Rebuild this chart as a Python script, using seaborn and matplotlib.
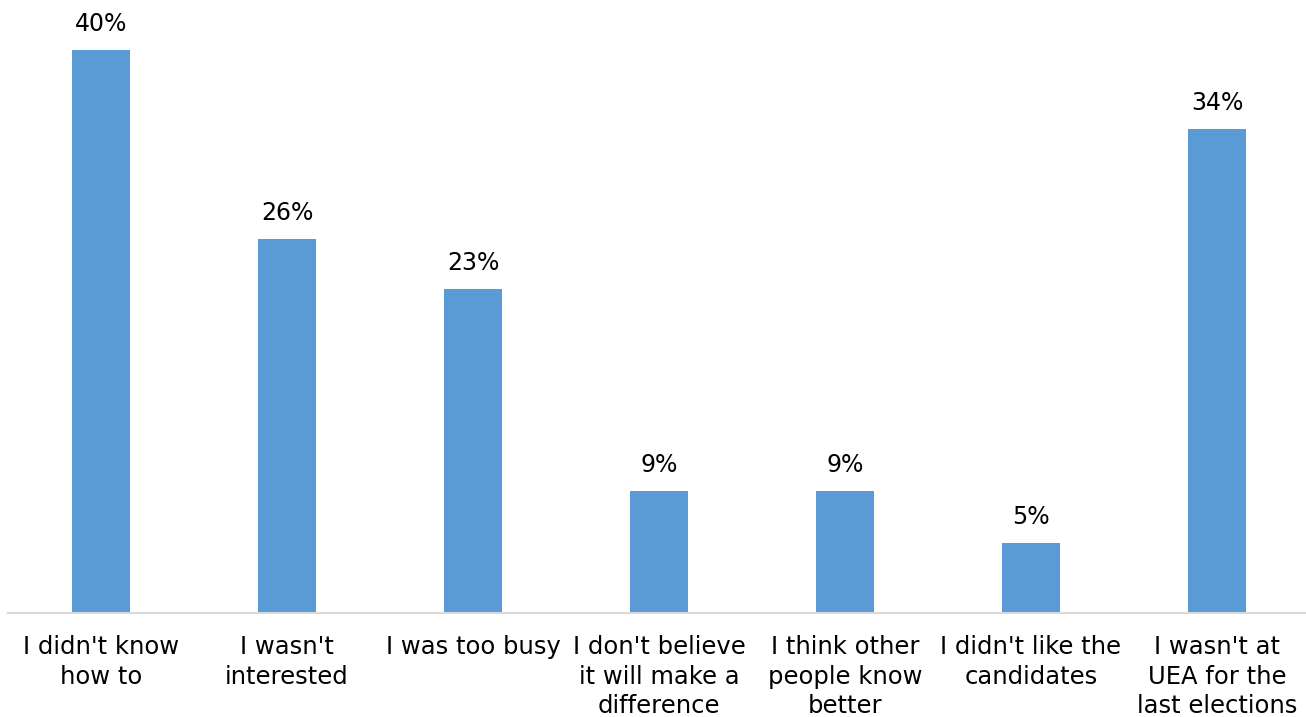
import matplotlib
matplotlib.use("Agg")
import matplotlib.pyplot as plt
import seaborn as sns
import pandas as pd

# reasons for not voting, share of respondents
reasons = [
    "I didn't know\nhow to",
    "I wasn't\ninterested",
    "I was too busy",
    "I don't believe\nit will make a\ndifference",
    "I think other\npeople know\nbetter",
    "I didn't like the\ncandidates",
    "I wasn't at\nUEA for the\nlast elections",
]
share = [40.0, 26.6, 23.0, 8.7, 8.7, 5.0, 34.4]
labels = ["40%", "26%", "23%", "9%", "9%", "5%", "34%"]

df = pd.DataFrame({"reason": reasons, "share": share})

sns.set_theme(style="white")
plt.rcParams["font.family"] = ["DejaVu Sans"]

fig = plt.figure(figsize=(13.06, 7.17), dpi=100)
ax = fig.add_axes([8 / 1306, (717 - 613) / 717, 1302 / 1306, 591 / 717])

sns.barplot(data=df, x="reason", y="share", color="#5B9BD5", saturation=1,
            width=0.312, linewidth=0, ax=ax)

for i, (v, t) in enumerate(zip(share, labels)):
    ax.annotate(t, (i, v), xytext=(0, 10), textcoords="offset points",
                ha="center", va="bottom", fontsize=17, color="#000000",
                annotation_clip=False)

ax.set_xlim(-0.5, 6.5)
ax.set_ylim(0, 42)
ax.set_xlabel("")
ax.set_ylabel("")
ax.set_yticks([])
ax.tick_params(axis="x", length=0, pad=16, labelsize=17.5, labelcolor="#000000")
for lbl in ax.get_xticklabels():
    lbl.set_linespacing(1.28)
    lbl.set_verticalalignment("top")

for s in ["top", "left", "right"]:
    ax.spines[s].set_visible(False)
ax.spines["bottom"].set_color("#D9D9D9")
ax.spines["bottom"].set_linewidth(1.5)

fig.savefig("out.png", dpi=100)
